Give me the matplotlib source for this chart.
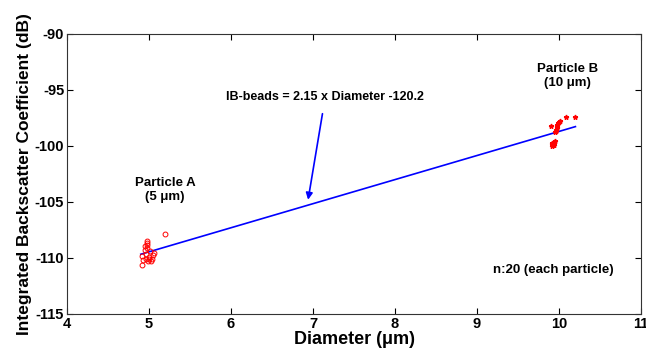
import numpy as np
import matplotlib
matplotlib.use('Agg')
import matplotlib.pyplot as plt

plt.rcParams['font.family'] = ['Liberation Sans', 'DejaVu Sans']
plt.rcParams['font.weight'] = 'bold'
plt.rcParams['axes.unicode_minus'] = False

# particle A (5 um) measurements
a_diam = [5.20, 4.98, 4.97, 4.955, 4.98, 4.92, 4.96, 4.99, 5.02, 5.045,
          5.06, 5.04, 4.91, 4.96, 5.00, 4.95, 5.00, 4.93, 5.01, 4.97]
a_ibc = [-107.83, -108.48, -108.84, -108.93, -109.13, -109.82, -110.12, -110.27, -110.24, -109.73,
         -109.58, -110.12, -110.63, -109.64, -110.06, -109.29, -109.88, -110.18, -109.35, -108.69]

# particle B (10 um) measurements
b_diam = [10.195, 10.09, 10.01, 9.99, 9.90, 9.97, 9.96, 9.95, 9.94, 9.92,
          9.93, 9.91, 9.95, 9.935, 9.98, 9.97, 9.92, 9.94, 10.00, 9.96]
b_ibc = [-97.38, -97.41, -97.79, -97.97, -98.24, -98.33, -98.57, -98.75, -99.67, -99.76,
         -99.94, -99.85, -99.55, -99.88, -98.10, -98.36, -100.0, -99.70, -97.85, -98.65]

# linear fit
slope = 2.15
intercept = -120.2
fit_x = [4.9, 10.2]

fig = plt.figure(figsize=(6.46, 3.54), dpi=100)
ax = fig.add_axes([0.1037, 0.113, 0.8886, 0.791])

fit_y = [slope * x + intercept for x in fit_x]
ax.plot(fit_x, fit_y, color='blue', linewidth=1.2, zorder=2)
ax.plot(a_diam, a_ibc, 'o', markerfacecolor='none', markeredgecolor='red',
        markersize=3.5, markeredgewidth=0.7, zorder=3)
ax.plot(b_diam, b_ibc, '*', color='red', markersize=3.5, zorder=3)

ax.text(5.195, -103.9, 'Particle A\n(5 \u03bcm)', ha='center', va='center',
        multialignment='center', fontsize=9.5)
ax.text(10.1, -93.75, 'Particle B\n(10 \u03bcm)', ha='center', va='center',
        multialignment='center', fontsize=9.5)
ax.text(9.2, -111.07, 'n:20 (each particle)', ha='left', va='center', fontsize=9.5)

ax.annotate('IB-beads = 2.15 x Diameter -120.2', xy=(6.94, -104.8), xytext=(7.15, -95.6),
            ha='center', va='center', fontsize=9,
            arrowprops=dict(arrowstyle='-|>', color='blue', lw=1.2, shrinkA=6, shrinkB=0,
                            mutation_scale=10))

ax.set_xlim(4, 11)
ax.set_ylim(-115, -90)
ax.set_xticks(range(4, 12))
ax.set_yticks(range(-115, -89, 5))
ax.tick_params(direction='in', top=True, right=True, labelsize=10.5, length=4, pad=2)
for lab in ax.get_xticklabels() + ax.get_yticklabels():
    lab.set_fontweight('bold')
for s in ax.spines.values():
    s.set_linewidth(0.8)
    s.set_color('#333333')

ax.set_xlabel('Diameter (\u03bcm)', fontsize=13, fontweight='bold', labelpad=0)
ax.set_ylabel('Integrated Backscatter Coefficient (dB)', fontsize=12.5, fontweight='bold', labelpad=2)

fig.savefig('out.png', dpi=100)
